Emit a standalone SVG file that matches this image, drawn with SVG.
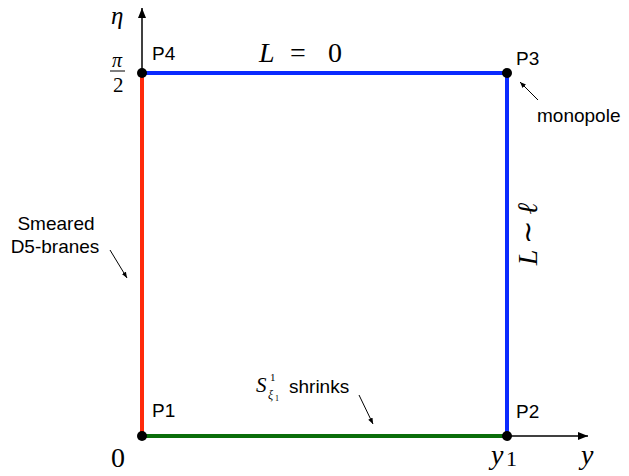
<svg xmlns="http://www.w3.org/2000/svg" width="629" height="476" viewBox="0 0 629 476">
<defs>
<marker id="ah" viewBox="0 0 10 10" refX="10" refY="5" markerWidth="10" markerHeight="10" markerUnits="userSpaceOnUse" orient="auto"><path d="M0,1 L10,5 L0,9 Z" fill="#000"/></marker>
<marker id="sa" viewBox="0 0 10 10" refX="10" refY="5" markerWidth="6" markerHeight="6" markerUnits="userSpaceOnUse" orient="auto"><path d="M0,1 L10,5 L0,9 Z" fill="#000"/></marker>
</defs>
<style>
.lbl{font-family:"Liberation Sans",Arial,sans-serif;font-size:19px;fill:#000}
.math{font-family:"Liberation Serif","Times New Roman",serif;font-style:italic;fill:#000}
.num{font-family:"Liberation Serif","Times New Roman",serif;fill:#000}
.axis{stroke:#000;stroke-width:1.5;fill:none}
.ptr{stroke:#000;stroke-width:1;fill:none}
.dot{fill:#000}
</style>
<rect width="629" height="476" fill="#fff"/>
<g id="connectors">
<line class="axis" x1="142" y1="436" x2="142" y2="8" marker-end="url(#ah)"/>
<line class="axis" x1="142" y1="436" x2="588" y2="436" marker-end="url(#ah)"/>
<line x1="142" y1="73" x2="142" y2="436" stroke="#ff2a0a" stroke-width="4"/>
<line x1="142" y1="73" x2="507" y2="73" stroke="#0a2aff" stroke-width="4"/>
<line x1="507" y1="73" x2="507" y2="436" stroke="#0a2aff" stroke-width="4"/>
<line x1="142" y1="436" x2="507" y2="436" stroke="#0a6e0a" stroke-width="4"/>
<line class="ptr" x1="538" y1="100" x2="520" y2="82" marker-end="url(#sa)"/>
<line class="ptr" x1="110" y1="250" x2="127" y2="278" marker-end="url(#sa)"/>
<line class="ptr" x1="359" y1="395" x2="373" y2="424" marker-end="url(#sa)"/>
</g>
<g id="P1"><circle class="dot" cx="142" cy="436" r="5"/><text class="lbl" x="152" y="417">P1</text></g>
<g id="P2"><circle class="dot" cx="507" cy="436" r="5"/><text class="lbl" x="516" y="418">P2</text></g>
<g id="P3"><circle class="dot" cx="507" cy="73" r="5"/><text class="lbl" x="516" y="65">P3</text></g>
<g id="P4"><circle class="dot" cx="142" cy="73" r="5"/><text class="lbl" x="152" y="60">P4</text></g>
<g id="labels">
<text class="math" x="111" y="24" font-size="25">η</text>
<text class="math" x="112" y="67" font-size="20">π</text>
<line x1="110" y1="71" x2="125" y2="71" stroke="#000" stroke-width="1"/>
<text class="num" x="113" y="92" font-size="21">2</text>
<text class="math" x="259" y="62" font-size="28">L</text>
<text class="num" x="290" y="62" font-size="28">=</text>
<text class="num" x="328" y="62" font-size="28">0</text>
<text class="lbl" x="537" y="122">monopole</text>
<text class="lbl" x="56" y="230" text-anchor="middle">Smeared</text>
<text class="lbl" x="55" y="253" text-anchor="middle">D5-branes</text>
<text class="math" x="256" y="392" font-size="21">S</text>
<text class="num" x="270" y="381" font-size="11">1</text>
<text class="math" x="268" y="399" font-size="12">ξ</text>
<text class="num" x="275" y="401" font-size="8">1</text>
<text class="lbl" x="289" y="393">shrinks</text>
<text transform="translate(537,234) rotate(-90)" text-anchor="middle"><tspan class="math" font-size="28">L</tspan><tspan class="num" font-size="28" dx="6">∼</tspan><tspan class="math" font-size="28" dx="6">ℓ</tspan></text>
<text class="num" x="111" y="467" font-size="28">0</text>
<text class="math" x="491" y="464" font-size="28">y</text>
<text class="num" x="506" y="466" font-size="22">1</text>
<text class="math" x="581" y="464" font-size="28">y</text>
</g>
</svg>
